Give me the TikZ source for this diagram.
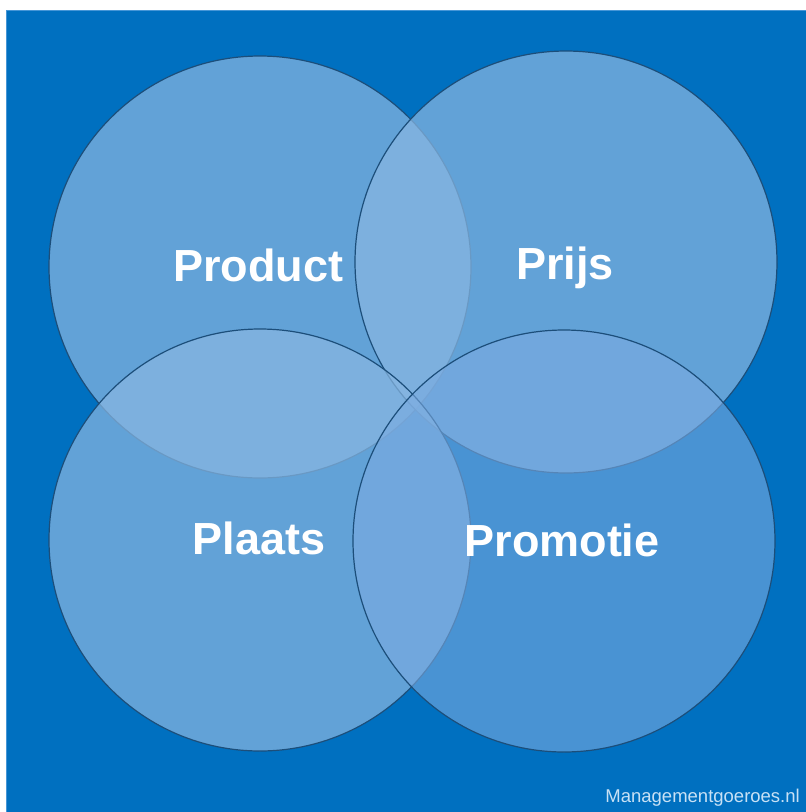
\documentclass[tikz,border=0pt]{standalone}
\usepackage{fontspec}
\setmainfont{Liberation Sans}
\definecolor{panelblue}{RGB}{0,112,192}
\definecolor{panelrim}{RGB}{70,150,215}
\definecolor{discfill}{RGB}{136,182,225}
\definecolor{discfilldark}{RGB}{123,171,225}
\definecolor{discline}{RGB}{28,78,122}
\definecolor{credit}{RGB}{200,225,245}
\tikzset{
  disc/.style={circle, minimum size=422pt, inner sep=0pt, fill=discfill, fill opacity=0.72,
    draw=discline, draw opacity=1, line width=1.2pt},
  discdark/.style={disc, fill=discfilldark, fill opacity=0.6},
  label4p/.style={text=white, font=\fontsize{45}{54}\selectfont\bfseries, anchor=base},
  creditlabel/.style={text=credit, font=\fontsize{18.5}{22}\selectfont, anchor=base east, inner sep=0pt}
}
\begin{document}
\begin{tikzpicture}[x=1pt,y=-1pt]
  \useasboundingbox (0,0) rectangle (806,812);
  \fill[white] (0,0) rectangle (806,812);
  % blue panel
  \fill[panelblue] (6,10) rectangle (806,812);
  \draw[panelrim, line width=0.8pt] (6.4,812) -- (6.4,10.4) -- (806,10.4);
  % the four overlapping discs
  \node[disc] (product) at (260,267) {};
  \node[disc] (prijs) at (566,262) {};
  \node[disc] (plaats) at (260,540) {};
  \node[discdark] (promotie) at (564,541) {};
  % labels
  \node[label4p] (tproduct) at (258,281) {Product};
  \node[label4p] (tprijs) at (565,279) {Prijs};
  \node[label4p] (tplaats) at (259,554) {Plaats};
  \node[label4p] (tpromotie) at (562,556) {Promotie};
  \node[creditlabel] (site) at (800,802) {Managementgoeroes.nl};
\end{tikzpicture}
\end{document}
